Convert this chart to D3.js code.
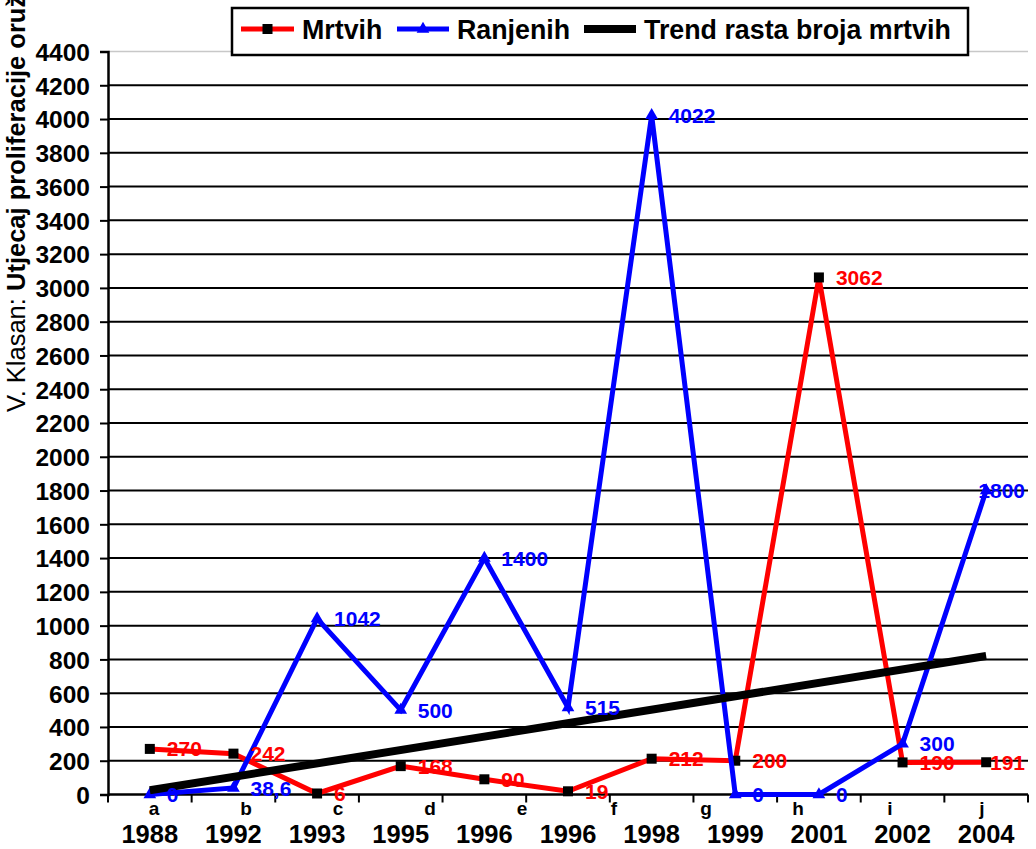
<!DOCTYPE html>
<html>
<head>
<meta charset="utf-8">
<script src="https://cdn.jsdelivr.net/npm/d3@7"></script>
<style>
  html, body { margin: 0; padding: 0; background: #fff; }
  svg { display: block; font-family: Arial, "Liberation Sans", sans-serif; }
</style>
</head>
<body>
<svg id="chart" width="1036" height="849"></svg>
<script>
// Categories (years) and the letter row shown above them
const years = ["1988", "1992", "1993", "1995", "1996", "1996", "1998", "1999", "2001", "2002", "2004"];
const letters = ["a", "b", "c", "d", "e", "f", "g", "h", "i", "j"];

// Series values
const mrtvih = [270, 242, 6, 168, 90, 19, 212, 200, 3062, 190, 191];
const ranjenih = [0, 38.6, 1042, 500, 1400, 515, 4022, 0, 0, 300, 1800];

// Y axis tick values
const yTickValues = [0, 200, 400, 600, 800, 1000, 1200, 1400, 1600, 1800, 2000, 2200,
                     2400, 2600, 2800, 3000, 3200, 3400, 3600, 3800, 4000, 4200, 4400];

const legendNames = ["Mrtvih", "Ranjenih", "Trend rasta broja mrtvih"];

const RED = "#ff0000", BLUE = "#0000ff", BLACK = "#000000";

const svg = d3.select("#chart");
const plotL = 108, plotR = 1028, plotT = 51.5, plotB = 794.5;

const x = d3.scaleBand().domain(d3.range(years.length)).range([plotL, plotR]);
const xl = d3.scaleBand().domain(letters).range([plotL, plotR]);
const y = d3.scaleLinear().domain([0, 4400]).range([plotB, plotT]);
const cx = i => x(i) + x.bandwidth() / 2;

// Horizontal gridlines
svg.append("g").selectAll("line").data(yTickValues.filter(v => v > 0)).join("line")
  .attr("x1", plotL).attr("x2", plotR)
  .attr("y1", d => y(d)).attr("y2", d => y(d))
  .attr("stroke", d => d === 4400 ? "#c8c8c8" : BLACK)
  .attr("stroke-width", d => d === 4400 ? 1.5 : 2);

// Y axis
const yAxis = svg.append("g").attr("transform", `translate(${plotL},0)`)
  .call(d3.axisLeft(y).tickValues(yTickValues).tickSize(8).tickFormat(d3.format("d")));
yAxis.select(".domain").attr("stroke", BLACK).attr("stroke-width", 2.5);
yAxis.selectAll(".tick line").attr("stroke", BLACK).attr("stroke-width", 2);
yAxis.selectAll(".tick text")
  .attr("x", -18).attr("dy", "0.36em")
  .attr("font-size", 24.5).attr("font-weight", "bold").attr("fill", BLACK)
  .attr("font-family", "Arial, 'Liberation Sans', sans-serif");

// X axis with ticks at category boundaries
const xAxisG = svg.append("g");
xAxisG.append("line").attr("x1", plotL).attr("x2", plotR).attr("y1", plotB).attr("y2", plotB)
  .attr("stroke", BLACK).attr("stroke-width", 2.5);
const boundaries = d3.range(years.length).map(i => x(i)).concat([plotR]);
xAxisG.selectAll("line.tk").data(boundaries).join("line").attr("class", "tk")
  .attr("x1", d => d).attr("x2", d => d).attr("y1", plotB).attr("y2", plotB + 8)
  .attr("stroke", BLACK).attr("stroke-width", 2);

// Letter row
svg.append("g").selectAll("text").data(letters).join("text")
  .attr("x", d => xl(d) + xl.bandwidth() / 2).attr("y", 815)
  .attr("text-anchor", "middle").attr("font-size", 19).attr("font-weight", "bold")
  .text(d => d);

// Year row
svg.append("g").selectAll("text").data(years).join("text")
  .attr("x", (d, i) => cx(i)).attr("y", 843)
  .attr("text-anchor", "middle").attr("font-size", 25.5).attr("font-weight", "bold")
  .text(d => d);

// Y axis title
const title = svg.append("text")
  .attr("transform", "translate(25,412) rotate(-90)")
  .attr("font-size", 25.5).attr("fill", BLACK);
title.append("tspan").attr("font-weight", "normal").text("V. Klasan: ");
title.append("tspan").attr("font-weight", "bold").text("Utjecaj proliferacije oružja");

// Linear trend of Mrtvih (least squares over category index)
const n = mrtvih.length;
const xs = d3.range(1, n + 1);
const mx = d3.mean(xs), my = d3.mean(mrtvih);
const slope = d3.sum(xs, (v, i) => (v - mx) * (mrtvih[i] - my)) / d3.sum(xs, v => (v - mx) ** 2);
const intercept = my - slope * mx;
const trend = [0, n - 1].map(i => ({ i, v: intercept + slope * (i + 1) }));

const line = d3.line().x(d => cx(d.i)).y(d => y(d.v));
const redPts = mrtvih.map((v, i) => ({ i, v }));
const bluePts = ranjenih.map((v, i) => ({ i, v }));

// Mrtvih series
svg.append("path").datum(redPts).attr("d", line)
  .attr("fill", "none").attr("stroke", RED).attr("stroke-width", 5).attr("stroke-linejoin", "miter");
svg.append("g").selectAll("rect").data(redPts).join("rect")
  .attr("x", d => cx(d.i) - 5).attr("y", d => y(d.v) - 5)
  .attr("width", 10).attr("height", 10).attr("fill", BLACK);

// Ranjenih series
svg.append("path").datum(bluePts).attr("d", line)
  .attr("fill", "none").attr("stroke", BLUE).attr("stroke-width", 5).attr("stroke-linejoin", "miter");
const tri = d3.symbol().type(d3.symbolTriangle).size(70);
svg.append("g").selectAll("path").data(bluePts).join("path")
  .attr("transform", d => `translate(${cx(d.i)},${y(d.v)})`)
  .attr("d", tri).attr("fill", BLUE);

// Trend line
svg.append("path").datum(trend).attr("d", line)
  .attr("fill", "none").attr("stroke", BLACK).attr("stroke-width", 8);

// Data labels
const fmt = v => String(v).replace(".", ",");
function labels(pts, color) {
  const g = svg.append("g");
  g.selectAll("text").data(pts).join("text")
    .attr("x", d => cx(d.i) + 17).attr("y", d => y(d.v)).attr("dy", "0.36em")
    .attr("font-size", 21).attr("font-weight", "bold").attr("fill", color)
    .text(d => fmt(d.v))
    .each(function (d) {
      const w = this.getComputedTextLength();
      const x0 = cx(d.i) + 17;
      if (x0 + w > 1025) d3.select(this).attr("x", 1025 - w);
    });
}
labels(redPts, RED);
labels(bluePts, BLUE);

// Legend
const lg = svg.append("g");
lg.append("rect").attr("x", 232).attr("y", 8).attr("width", 736).attr("height", 47)
  .attr("fill", "#fff").attr("stroke", BLACK).attr("stroke-width", 2.5);
const legendY = 29;
const items = [
  { name: legendNames[0], color: RED, x1: 241, x2: 294, tx: 302, marker: "square", w: 5 },
  { name: legendNames[1], color: BLUE, x1: 397, x2: 449, tx: 457, marker: "tri", w: 5 },
  { name: legendNames[2], color: BLACK, x1: 584, x2: 636, tx: 644, marker: null, w: 8 }
];
items.forEach(it => {
  lg.append("line").attr("x1", it.x1).attr("x2", it.x2).attr("y1", legendY).attr("y2", legendY)
    .attr("stroke", it.color).attr("stroke-width", it.w);
  const mxp = (it.x1 + it.x2) / 2;
  if (it.marker === "square") {
    lg.append("rect").attr("x", mxp - 5).attr("y", legendY - 5).attr("width", 10).attr("height", 10).attr("fill", BLACK);
  } else if (it.marker === "tri") {
    lg.append("path").attr("transform", `translate(${mxp},${legendY})`).attr("d", tri).attr("fill", BLUE);
  }
  lg.append("text").attr("x", it.tx).attr("y", legendY).attr("dy", "0.36em")
    .attr("font-size", 26.8).attr("font-weight", "bold").attr("fill", BLACK).text(it.name);
});
</script>
</body>
</html>
